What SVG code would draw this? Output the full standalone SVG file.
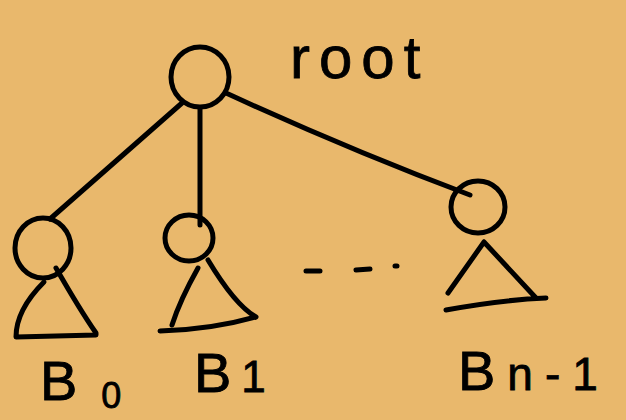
<svg xmlns="http://www.w3.org/2000/svg" width="626" height="420" viewBox="0 0 626 420">
<style>
.ln{fill:none;stroke:#000;stroke-width:5;stroke-linecap:round;stroke-linejoin:round}
.lbl{font-family:"Liberation Sans","DejaVu Sans",sans-serif;fill:#000;stroke:#000;stroke-width:0.8}
</style>
<rect width="626" height="420" fill="#E9B86C"/>
<g id="connectors">
<path class="ln" d="M182,103 L50,219"/>
<path class="ln" d="M200,108 L200,225"/>
<path class="ln" d="M226,93 Q350,150 470,195"/>
</g>
<g id="root">
<ellipse class="ln" cx="200" cy="77" rx="29" ry="30"/>
<text class="lbl" x="290" y="78" font-size="60" letter-spacing="9">root</text>
</g>
<g id="b0">
<ellipse class="ln" cx="43" cy="248" rx="28" ry="30"/>
<path class="ln" d="M56,268 Q80,310 96,333 L96,335 L16,337 Q16,310 44,282"/>
<text class="lbl" x="40" y="400" font-size="56">B<tspan font-size="36" dx="24" dy="8">0</tspan></text>
</g>
<g id="b1">
<ellipse class="ln" cx="189" cy="238" rx="24" ry="23"/>
<path class="ln" d="M208,260 Q235,305 256,317 Q210,330 160,331"/>
<path class="ln" d="M198,268 Q180,300 172,325"/>
<text class="lbl" x="194" y="392" font-size="56">B<tspan font-size="44" dx="10">1</tspan></text>
</g>
<g id="dots">
<path class="ln" d="M306,271 L320,271 M356,270 L370,269 M395,266 L397,266"/>
</g>
<g id="bn1">
<ellipse class="ln" cx="478" cy="207" rx="27" ry="26"/>
<path class="ln" d="M484,242 L448,293 M484,242 L536,298 M446,310 Q500,300 546,298"/>
<text class="lbl" x="458" y="390" font-size="56">B<tspan font-size="46" dx="12" letter-spacing="12">n-1</tspan></text>
</g>
</svg>
